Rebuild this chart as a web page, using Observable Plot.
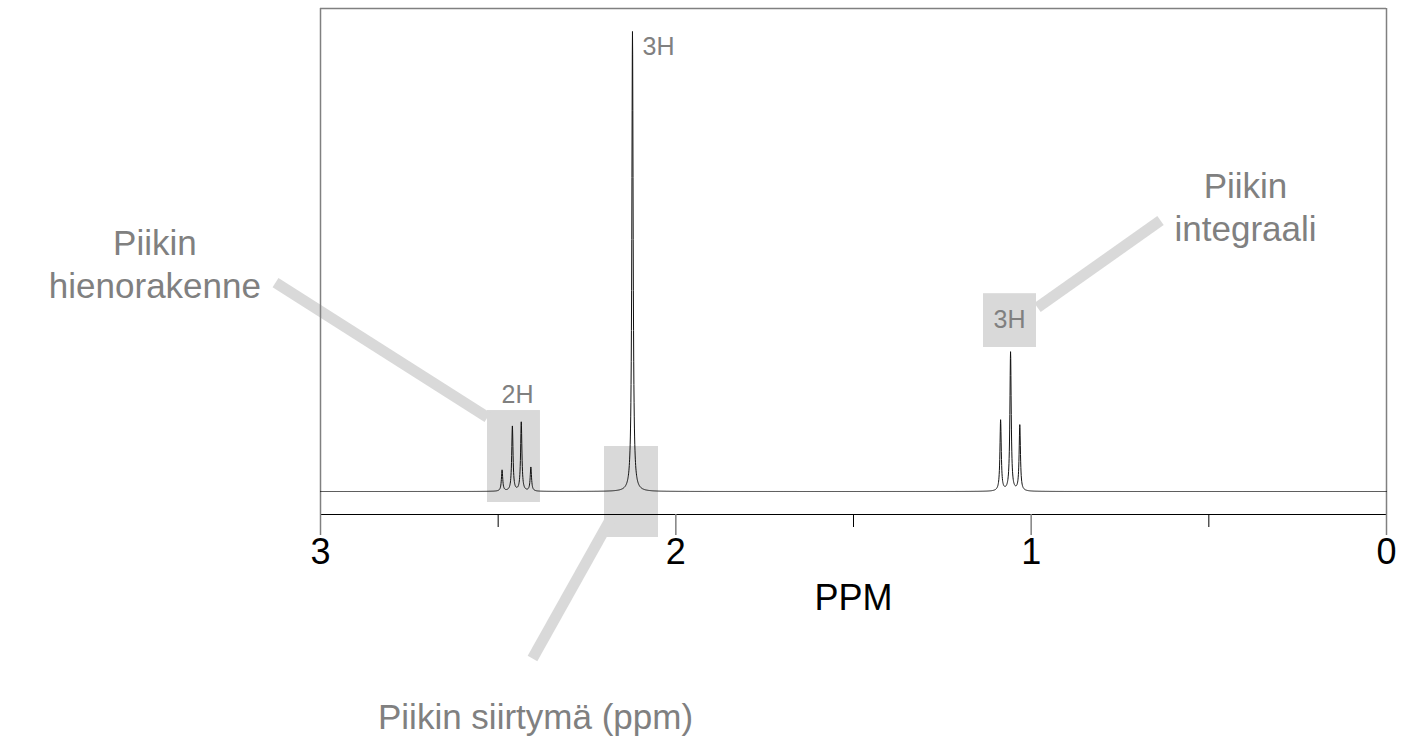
<!DOCTYPE html>
<html>
<head>
<meta charset="utf-8">
<script src="https://cdn.jsdelivr.net/npm/d3@7"></script>
<script src="https://cdn.jsdelivr.net/npm/@observablehq/plot@0.6"></script>
<style>
  html, body { margin: 0; padding: 0; background: white; }
  #chart svg { display: block; }
</style>
</head>
<body>
<div id="chart"></div>
<script>
// ---- Data (1H NMR of butanone) ----
const peakPpm    = [2.489, 2.460, 2.435, 2.408, 2.122, 1.086, 1.058, 1.032];
const peakHeight = [4.6, 14.1, 15.0, 5.2, 100, 15.4, 30.2, 14.3];
const peakWidth  = 0.0022; // Lorentzian half-width (ppm) used to draw line shape

const majorTicks = [3, 2, 1, 0];
const majorTickLabels = ["3", "2", "1", "0"];
const minorTicks = [2.5, 1.5, 0.5];
const xLabel = "PPM";

// integral labels
const integralText = ["2H", "3H", "3H"];
const integralX = [2.4456, 2.0938, 1.061];
const integralY = [20.9, 96.7, 37.2];
const integralAnchor = ["middle", "start", "middle"];

// highlight boxes
const boxX1 = [2.530, 2.2007, 1.1341];
const boxX2 = [2.381, 2.0488, 0.9850];
const boxY1 = [17.6, 9.78, 43.0];
const boxY2 = [-2.39, -10.0, 31.3];

// leader lines
const leadX1 = [3.1266, 2.4034, 0.9822];
const leadY1 = [45.4, -36.3, 40.0];
const leadX2 = [2.530, 2.178, 0.636];
const leadY2 = [16.1, -5.2, 58.9];

// annotation texts
const noteText = ["Piikin\nhienorakenne", "Piikin siirtymä (ppm)", "Piikin\nintegraali"];
const noteX = [3.466, 2.3949, 0.3968];
const noteY = [49.8, -48.7, 62.2];

// ---- build tables ----
const xs = d3.range(3, -0.00001, -0.0005);
const spectrum = xs.map(x => ({
  x,
  y: d3.sum(peakPpm, (p, i) => peakHeight[i] * peakWidth * peakWidth / (peakWidth * peakWidth + (x - p) * (x - p)))
}));
const boxes = boxX1.map((d, i) => ({x1: boxX1[i], x2: boxX2[i], y1: boxY1[i], y2: boxY2[i]}));
const leaders = leadX1.map((d, i) => ({x1: leadX1[i], y1: leadY1[i], x2: leadX2[i], y2: leadY2[i]}));
const integrals = integralText.map((t, i) => ({text: t, x: integralX[i], y: integralY[i], anchor: integralAnchor[i]}));
const notes = noteText.map((t, i) => ({text: t, x: noteX[i], y: noteY[i]}));

const minorAxis = Plot.axisTickX
  ? Plot.axisTickX(minorTicks, {anchor: "bottom", tickSize: 13, stroke: "black", strokeWidth: 1.2})
  : Plot.axisX(minorTicks, {anchor: "bottom", tickSize: 13, stroke: "black", tickFormat: () => ""});

const chart = Plot.plot({
  width: 1401,
  height: 737,
  marginLeft: 320,
  marginRight: 15,
  marginTop: 8,
  marginBottom: 223,
  x: {domain: [3, 0]},
  y: {domain: [-5, 105], axis: null},
  style: {fontFamily: "'Liberation Sans', Arial, sans-serif", background: "white", overflow: "visible"},
  marks: [
    Plot.rect(boxes, {x1: "x1", x2: "x2", y1: "y1", y2: "y2", fill: "#d9d9d9"}),
    Plot.link(leaders, {x1: "x1", y1: "y1", x2: "x2", y2: "y2", stroke: "#d9d9d9", strokeWidth: 11}),
    Plot.ruleY([105], {stroke: "#808080", strokeWidth: 1.5}),
    Plot.ruleX([3, 0], {stroke: "#808080", strokeWidth: 1.5}),
    Plot.ruleY([-5], {stroke: "black", strokeWidth: 1.2}),
    Plot.line(spectrum, {x: "x", y: "y", stroke: "#111", strokeWidth: 1}),
    Plot.axisX(majorTicks, {
      anchor: "bottom", tickSize: 21, tickPadding: 3, stroke: "#808080", strokeWidth: 1.5,
      fill: "black", fontSize: 36, tickFormat: d => majorTickLabels[majorTicks.indexOf(d)], label: null
    }),
    minorAxis,
    Plot.text([xLabel], {x: 1.5, y: -23.3, text: d => d, fontSize: 36, fill: "black"}),
    Plot.text(integrals.filter(d => d.anchor === "middle"), {x: "x", y: "y", text: "text", fontSize: 25, fill: "#808080"}),
    Plot.text(integrals.filter(d => d.anchor === "start"), {x: "x", y: "y", text: "text", fontSize: 25, fill: "#808080", textAnchor: "start"}),
    Plot.text(notes, {x: "x", y: "y", text: "text", fontSize: 35, fill: "#808080", lineHeight: 1.23})
  ]
});
document.getElementById("chart").appendChild(chart);
</script>
</body>
</html>
